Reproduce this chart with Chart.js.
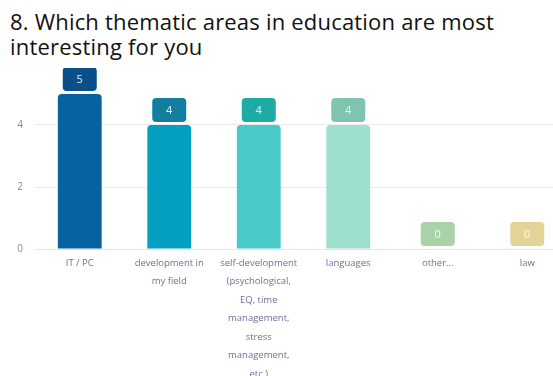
<!DOCTYPE html>
<html>
<head>
<meta charset="utf-8">
<script src="https://cdn.jsdelivr.net/npm/chart.js@4.4.1/dist/chart.umd.min.js"></script>
<style>
    html, body { margin: 0; padding: 0; background: #fff; overflow: hidden; width: 553px; height: 376px; }
    #title {
        position: absolute; left: 10px; top: 9px; width: 545px;
        font-family: 'Open Sans', sans-serif; font-size: 22px; line-height: 25px;
        letter-spacing: 0.2px; color: #111; font-weight: 400;
    }
    #wrapper { position: absolute; left: 0; top: 68px; width: 572px; height: 308px; }
</style>
</head>
<body>
<div id="title">8. Which thematic areas in education are most interesting for you</div>
<div id="wrapper"><canvas id="chart"></canvas></div>
<script>
const categories = [
    'IT / PC',
    ['development in', 'my field'],
    ['self-development', '(psychological,', 'EQ, time', 'management,', 'stress', 'management,', 'etc.)'],
    'languages',
    'other...',
    'law'
];
const answers = [5, 4, 4, 4, 0, 0];
const barColors = ['#0663a0', '#03a0c2', '#4ac9c9', '#9fdfcd', '#a9d2a8', '#e3d394'];
const boxColors = ['#0b4f8a', '#127fa1', '#1eaaa5', '#80c3ae', '#a9d2a8', '#e3d394'];
const yTicks = [0, 2, 4];

// rounded value badge drawn above every bar
const valueBoxes = {
    id: 'valueBoxes',
    afterDatasetsDraw(chart) {
        const ctx = chart.ctx;
        const meta = chart.getDatasetMeta(0);
        ctx.save();
        ctx.font = '11px "Open Sans", sans-serif';
        ctx.textAlign = 'center';
        ctx.textBaseline = 'middle';
        meta.data.forEach((bar, i) => {
            const w = 34, h = 24;
            const x = bar.x - w / 2;
            const y = bar.y - 3 - h;
            ctx.fillStyle = boxColors[i];
            ctx.beginPath();
            ctx.roundRect(x, y, w, h, 4);
            ctx.fill();
            ctx.fillStyle = 'rgba(255,255,255,0.9)';
            ctx.fillText(String(answers[i]), bar.x, y + h / 2 + 1);
        });
        ctx.restore();
    }
};

const ctx = document.getElementById('chart').getContext('2d');
new Chart(ctx, {
    type: 'bar',
    data: {
        labels: categories,
        datasets: [{
            data: answers,
            backgroundColor: barColors,
            borderRadius: { topLeft: 4, topRight: 4 },
            borderSkipped: 'bottom',
            categoryPercentage: 1,
            barPercentage: 0.49
        }]
    },
    options: {
        responsive: true,
        maintainAspectRatio: false,
        animation: false,
        layout: { padding: { top: 26, right: 0, left: 0, bottom: 0 } },
        plugins: {
            legend: { display: false },
            tooltip: { enabled: false }
        },
        scales: {
            x: {
                grid: { display: false },
                border: { color: '#e4e4ee', width: 1 },
                ticks: {
                    color: '#6e6e9c',
                    font: { family: 'Open Sans', size: 9.5, lineHeight: '18.5px' },
                    padding: -3,
                    maxRotation: 0,
                    autoSkip: false
                },
                afterFit(scale) { scale.height = 127; }
            },
            y: {
                min: 0,
                max: 5,
                afterBuildTicks(scale) { scale.ticks = yTicks.map(v => ({ value: v })); },
                grid: { color: '#ebebf0', drawTicks: false },
                border: { display: false },
                ticks: {
                    color: '#8a8aa2',
                    font: { family: 'Open Sans', size: 10 },
                    padding: 12
                },
                afterFit(scale) { scale.width = 35; }
            }
        }
    },
    plugins: [valueBoxes]
});
</script>
</body>
</html>
